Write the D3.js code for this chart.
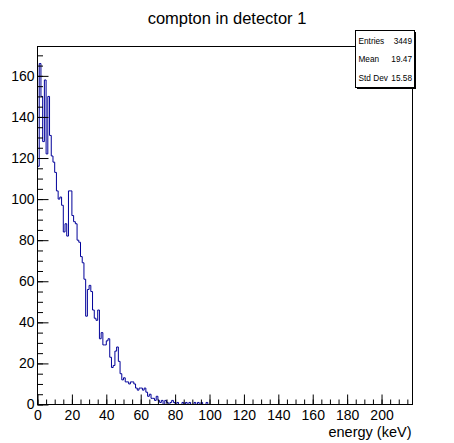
<!DOCTYPE html>
<html><head><meta charset="utf-8">
<script src="https://cdn.jsdelivr.net/npm/d3@7"></script>
<style>
html,body{margin:0;padding:0;background:#fff;}
text{font-family:"Liberation Sans",Arial,Helvetica,sans-serif;}
</style></head>
<body>
<svg id="c" width="454" height="443"></svg>
<script>
// ---- data ----
const title = "compton in detector 1";
const xTitle = "energy (keV)";
const xRange = [0, 218];
const yRange = [0, 174.3];
const binWidth = 1;
const counts = [
 116,166,150,128,158,122,150,131,121,118,
 113,104,100,101, 97, 84, 88, 82,104,104,
  92, 89, 88, 80, 79, 72, 69, 61, 43, 56,
  58, 55, 46, 42, 41, 46, 32, 35, 29, 29,
  31, 32, 23, 18, 19, 26, 28, 21, 15, 12,
  13, 11, 11, 10, 11, 11, 10,  8,  7,  8,
   8,  7,  8,  6,  4,  5,  3,  3,  2,  4,
   2,  1,  2,  0,  2,  1,  0,  1,  2,  1,
   0,  1,  0,  0,  1,  0,  1,  0,  1,  0,
   0,  1,  0,  1,  0,  1,  0,  0,  1,  0,
   0
];
const xTickLabels = [0,20,40,60,80,100,120,140,160,180,200];
const yTickLabels = [0,20,40,60,80,100,120,140,160];
const statNames = ["Entries","Mean","Std Dev"];
const statValues = ["3449","19.47","15.58"];

// ---- layout ----
const svg = d3.select("#c");
const L = 37.5, R = 412.5, T = 46.5, B = 404.5;
const x = d3.scaleLinear().domain(xRange).range([L, R]);
const y = d3.scaleLinear().domain(yRange).range([B, T]);

svg.append("rect").attr("width",454).attr("height",443).attr("fill","#fff");

// histogram step path
const pts = [];
counts.forEach((c,i)=>{
  const x0 = xRange[0] + i*binWidth, x1 = x0 + binWidth;
  pts.push([x(x0), y(c)]);
  pts.push([x(x1), y(c)]);
});
pts.push([x(xRange[0] + counts.length*binWidth), y(0)]);
pts.push([x(xRange[1]), y(0)]);
svg.append("path")
  .attr("d", d3.line()(pts))
  .attr("fill","none").attr("stroke","#000099").attr("stroke-width",1);

// frame
svg.append("rect").attr("x",L).attr("y",T).attr("width",R-L).attr("height",B-T)
  .attr("fill","none").attr("stroke","#000").attr("stroke-width",1);

// x axis
const xMinor = d3.range(0, 218, 5);
const gxm = svg.append("g").attr("transform",`translate(0,${B})`)
  .call(d3.axisBottom(x).tickValues(xMinor).tickSize(-5).tickFormat(""));
const gx = svg.append("g").attr("transform",`translate(0,${B})`)
  .call(d3.axisBottom(x).tickValues(xTickLabels).tickSizeInner(-10).tickSizeOuter(0).tickPadding(6).tickFormat(d3.format("d")));
[gxm,gx].forEach(g=>{g.select(".domain").remove(); g.selectAll("line").attr("stroke","#000");});
gx.selectAll("text").attr("font-size",14).attr("fill","#000")
  .style("font-family",'"Liberation Sans",Arial,sans-serif');

// y axis
const yMinor = d3.range(0, 175, 5);
const gym = svg.append("g").attr("transform",`translate(${L},0)`)
  .call(d3.axisLeft(y).tickValues(yMinor).tickSize(-5.5).tickFormat(""));
const gy = svg.append("g").attr("transform",`translate(${L},0)`)
  .call(d3.axisLeft(y).tickValues(yTickLabels).tickSizeInner(-11).tickSizeOuter(0).tickPadding(3).tickFormat(d3.format("d")));
[gym,gy].forEach(g=>{g.select(".domain").remove(); g.selectAll("line").attr("stroke","#000");});
gy.selectAll("text").attr("font-size",14).attr("fill","#000")
  .style("font-family",'"Liberation Sans",Arial,sans-serif');

// axis title
svg.append("text").attr("x",R-1).attr("y",437).attr("text-anchor","end")
  .attr("font-size",14.5).text(xTitle);

// title
svg.append("text").attr("x",227).attr("y",24).attr("text-anchor","middle")
  .attr("font-size",16.5).text(title);

// stats box
const sx = 355.5, sy = 30.5, sw = 59, sh = 57;
svg.append("rect").attr("x",sx+1.5).attr("y",sy+1.5).attr("width",sw).attr("height",sh).attr("fill","#000");
svg.append("rect").attr("x",sx).attr("y",sy).attr("width",sw).attr("height",sh)
  .attr("fill","#fff").attr("stroke","#000").attr("stroke-width",1);
let fs = 9.5;
const rows = statNames.map((n,i)=>{
  const yy = sy + 13 + i*18.7;
  const a = svg.append("text").attr("x",sx+3).attr("y",yy).text(n);
  const b = svg.append("text").attr("x",sx+sw-2.5).attr("y",yy).attr("text-anchor","end").text(statValues[i]);
  return [a,b];
});
function fits(){
  return rows.every(([a,b])=>{
    a.attr("font-size",fs); b.attr("font-size",fs);
    return a.node().getComputedTextLength() + b.node().getComputedTextLength() + 3 <= sw - 5.5;
  });
}
while(!fits() && fs > 6) fs -= 0.25;
</script>
</body></html>
